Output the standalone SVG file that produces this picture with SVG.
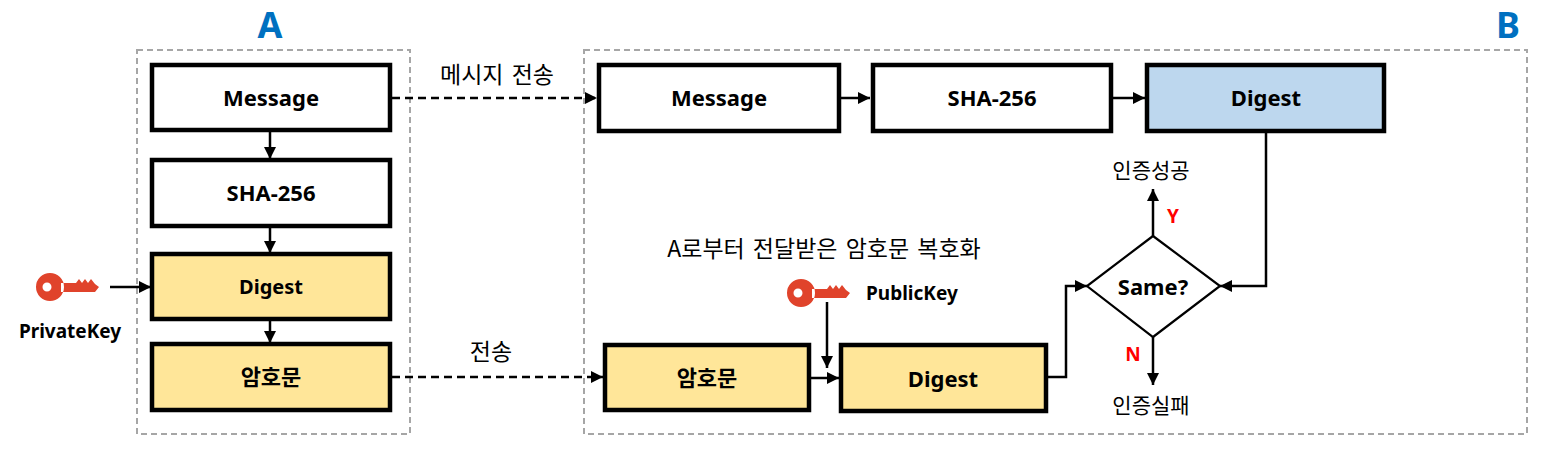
<svg xmlns="http://www.w3.org/2000/svg" width="1559" height="463" viewBox="0 0 1559 463">
<style>
text{font-family:"Noto Sans","Noto Sans CJK KR",sans-serif;}
.box{stroke:#000;stroke-width:4.5;}
.w{fill:#fff}.y{fill:#FFE699}.b{fill:#BDD7EE}
.lbl{font-size:22px;font-weight:bold;text-anchor:middle;fill:#000;font-family:"Noto Sans","Noto Sans CJK KR",sans-serif;}
.kr{font-family:"Noto Sans CJK KR",sans-serif;}
.note{font-size:23px;fill:#000;text-anchor:middle;word-spacing:3px;font-family:"Noto Sans CJK KR",sans-serif;}
.res{font-size:21px;fill:#000;text-anchor:middle;font-family:"Noto Sans CJK KR",sans-serif;}
.grp{fill:none;stroke:#A6A6A6;stroke-width:2;stroke-dasharray:6 4;}
.ln{fill:none;stroke:#000;stroke-width:2.5;}
.dash{fill:none;stroke:#000;stroke-width:2.5;stroke-dasharray:8 5;}
.yn{font-size:19px;font-weight:bold;fill:#FF0000;text-anchor:middle;}
.key{fill:#E0432B;}
.kt{font-size:19px;font-weight:bold;fill:#000;}
.big{font-size:36px;font-weight:bold;fill:#0070C0;text-anchor:middle;}
</style>
<defs>
<marker id="ah" markerUnits="userSpaceOnUse" markerWidth="14" markerHeight="14" viewBox="0 0 14 14" refX="12" refY="7" orient="auto">
<path d="M0,1 L12,7 L0,13 Z" fill="#000"/>
</marker>
<path id="keyshape" d="M0,-14 A14,14 0 1 1 0,14 A14,14 0 1 1 0,-14 Z M-3,-4.5 A4.5,4.5 0 1 0 -3,4.5 A4.5,4.5 0 1 0 -3,-4.5 Z M11,-4 L26,-4 L29,-8 L32,-4 L35,-8 L38,-4 L41,-8 L45,-3 L49,0 L45,5 L11,5 Z" fill-rule="evenodd"/>
</defs>

<g id="groupA">
<rect class="grp" x="137" y="50" width="273" height="384"/>
<text class="big" x="270" y="38">A</text>
</g>
<g id="groupB">
<rect class="grp" x="584" y="50" width="943" height="384"/>
<text class="big" x="1508" y="38">B</text>
</g>

<g id="connectors">
<line class="ln" x1="270" y1="132" x2="270" y2="159" marker-end="url(#ah)"/>
<line class="ln" x1="270" y1="228" x2="270" y2="253" marker-end="url(#ah)"/>
<line class="ln" x1="270" y1="321" x2="270" y2="343" marker-end="url(#ah)"/>
<line class="ln" x1="110" y1="287" x2="151" y2="287" marker-end="url(#ah)"/>
<line class="dash" x1="392" y1="98" x2="597" y2="98" marker-end="url(#ah)"/>
<line class="dash" x1="392" y1="377" x2="603" y2="377" marker-end="url(#ah)"/>
<line class="ln" x1="841" y1="98" x2="870" y2="98" marker-end="url(#ah)"/>
<line class="ln" x1="1113" y1="98" x2="1145" y2="98" marker-end="url(#ah)"/>
<line class="ln" x1="811" y1="378" x2="839" y2="378" marker-end="url(#ah)"/>
<line class="ln" x1="827" y1="302" x2="827" y2="368" marker-end="url(#ah)"/>
<polyline class="ln" points="1048,377 1066,377 1066,286 1087,286" marker-end="url(#ah)"/>
<polyline class="ln" points="1266,133 1266,286 1220,286" marker-end="url(#ah)"/>
<line class="ln" x1="1153" y1="236" x2="1153" y2="189" marker-end="url(#ah)"/>
<line class="ln" x1="1153" y1="337" x2="1153" y2="385" marker-end="url(#ah)"/>
<text class="note" x="497" y="83">메시지 전송</text>
<text class="note" x="491" y="360">전송</text>
<text class="yn" x="1173" y="223">Y</text>
<text class="yn" x="1133" y="361">N</text>
</g>

<g id="a-message"><rect class="box w" x="152" y="65" width="238" height="65"/><text class="lbl" x="271" y="106">Message</text></g>
<g id="a-sha"><rect class="box w" x="152" y="160" width="238" height="66"/><text class="lbl" x="271" y="201">SHA-256</text></g>
<g id="a-digest"><rect class="box y" x="152" y="254" width="238" height="65"/><text class="lbl" x="271" y="294" style="font-size:20px">Digest</text></g>
<g id="a-cipher"><rect class="box y" x="152" y="344" width="238" height="66"/><text class="lbl kr" x="271" y="385">암호문</text></g>

<g id="private-key">
<use href="#keyshape" class="key" x="50" y="287"/>
<text class="kt" x="70" y="338" style="text-anchor:middle">PrivateKey</text>
</g>

<g id="b-message"><rect class="box w" x="599" y="65" width="240" height="66"/><text class="lbl" x="719" y="106">Message</text></g>
<g id="b-sha"><rect class="box w" x="873" y="65" width="238" height="66"/><text class="lbl" x="992" y="106">SHA-256</text></g>
<g id="b-digest-top"><rect class="box b" x="1147" y="65" width="237" height="66"/><text class="lbl" x="1266" y="106">Digest</text></g>
<g id="b-cipher"><rect class="box y" x="605" y="345" width="204" height="65"/><text class="lbl kr" x="707" y="386">암호문</text></g>
<g id="b-digest"><rect class="box y" x="841" y="345" width="205" height="66"/><text class="lbl" x="943" y="387">Digest</text></g>

<g id="decrypt-label"><text class="note" x="824" y="257">A로부터 전달받은 암호문 복호화</text></g>

<g id="public-key">
<use href="#keyshape" class="key" x="801" y="293"/>
<text class="kt" x="866" y="300">PublicKey</text>
</g>

<g id="same">
<polygon points="1153,236 1220,286 1153,337 1087,286" fill="#fff" stroke="#000" stroke-width="2.2"/>
<text class="lbl" x="1153" y="295">Same?</text>
</g>
<g id="success"><text class="res" x="1151" y="178">인증성공</text></g>
<g id="fail"><text class="res" x="1151" y="413">인증실패</text></g>
</svg>
